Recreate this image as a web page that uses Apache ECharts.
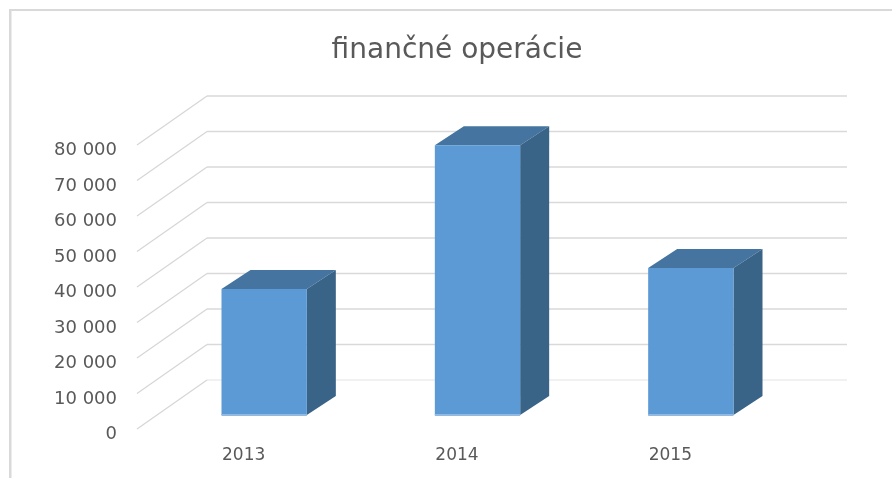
<!DOCTYPE html>
<html>
<head>
<meta charset="utf-8">
<style>
  html, body { margin: 0; padding: 0; background: #fff; }
  #chart { width: 892px; height: 478px; }
</style>
<script src="https://cdn.jsdelivr.net/npm/echarts@6/dist/echarts.min.js"></script>
</head>
<body>
<div id="chart"></div>
<script>
const categories = ['2013', '2014', '2015']
const values = [35500, 76000, 41400]
const yTicks = [0, 10000, 20000, 30000, 40000, 50000, 60000, 70000, 80000]

// oblique projection of the fake 3D box, px
const wallDx = 70
const wallDy = 49
const wallWidth = 640
const barFrontDx = 20.5
const barFrontDy = 14
const barDepthDx = 29
const barDepthDy = 19

const font = 'DejaVu Sans'
const textColor = '#595959'

const chart = echarts.init(document.getElementById('chart'))

const renderWall = (params, api) => {
  const x = params.coordSys.x
  const y = api.coord([0, api.value(1)])[1]
  const gridColor = api.value(1) === 0 ? '#ececec' : '#d9d9d9'
  return {
    type: 'group',
    children: [
      {
        type: 'line',
        shape: { x1: x, y1: y, x2: x + wallDx, y2: y - wallDy },
        style: { stroke: '#d6d6d6', lineWidth: 1.2 }
      },
      {
        type: 'line',
        shape: { x1: x + wallDx, y1: y - wallDy, x2: x + wallDx + wallWidth, y2: y - wallDy },
        style: { stroke: gridColor, lineWidth: 1.4 }
      }
    ]
  }
}

const renderBar = (params, api) => {
  const top = api.coord([api.value(0), api.value(1)])
  const base = api.coord([api.value(0), 0])
  const w = api.size([1, 0])[0] * 0.4
  const x0 = top[0] - w / 2 + barFrontDx
  const x1 = x0 + w
  const yTop = top[1] - barFrontDy
  const yBase = base[1] - barFrontDy
  return {
    type: 'group',
    children: [
      {
        type: 'polygon',
        shape: { points: [[x0, yTop], [x0 + barDepthDx, yTop - barDepthDy], [x1 + barDepthDx, yTop - barDepthDy], [x1, yTop]] },
        style: { fill: '#44749f' }
      },
      {
        type: 'polygon',
        shape: { points: [[x1, yTop], [x1 + barDepthDx, yTop - barDepthDy], [x1 + barDepthDx, yBase - barDepthDy], [x1, yBase]] },
        style: { fill: '#396387' }
      },
      {
        type: 'rect',
        shape: { x: x0, y: yTop, width: w, height: yBase - yTop },
        style: { fill: '#5b9ad5' }
      },
      {
        type: 'rect',
        shape: { x: x0, y: yBase - 1, width: w, height: 2 },
        style: { fill: '#92b9e2' }
      }
    ]
  }
}

chart.setOption({
  animation: false,
  title: {
    text: 'finančné operácie',
    left: 452,
    top: 32,
    textAlign: 'center',
    textStyle: { fontFamily: font, fontSize: 28, fontWeight: 'normal', color: textColor }
  },
  grid: { left: 137, top: 145, width: wallWidth, height: 284 },
  xAxis: {
    type: 'category',
    data: categories,
    axisLine: { show: false },
    axisTick: { show: false },
    axisLabel: { margin: 18, fontFamily: font, fontSize: 17, color: textColor }
  },
  yAxis: {
    type: 'value',
    min: 0,
    max: 80000,
    interval: 10000,
    splitLine: { show: false },
    axisLine: { show: false },
    axisTick: { show: false },
    axisLabel: {
      margin: 20,
      verticalAlign: 'top',
      lineHeight: 11,
      fontFamily: font,
      fontSize: 18,
      color: textColor,
      formatter: v => String(v).replace(/\B(?=(\d{3})+$)/g, ' ')
    }
  },
  graphic: [
    { type: 'rect', shape: { x: 9, y: 9, width: 883, height: 2 }, style: { fill: '#d9d9d9' } },
    { type: 'rect', shape: { x: 9, y: 9, width: 2.5, height: 469 }, style: { fill: '#d9d9d9' } }
  ],
  series: [
    {
      type: 'custom',
      z: 1,
      silent: true,
      renderItem: renderWall,
      data: yTicks.map(t => [0, t])
    },
    {
      type: 'custom',
      z: 2,
      silent: true,
      renderItem: renderBar,
      data: values.map((v, i) => [i, v])
    }
  ]
})
</script>
</body>
</html>
